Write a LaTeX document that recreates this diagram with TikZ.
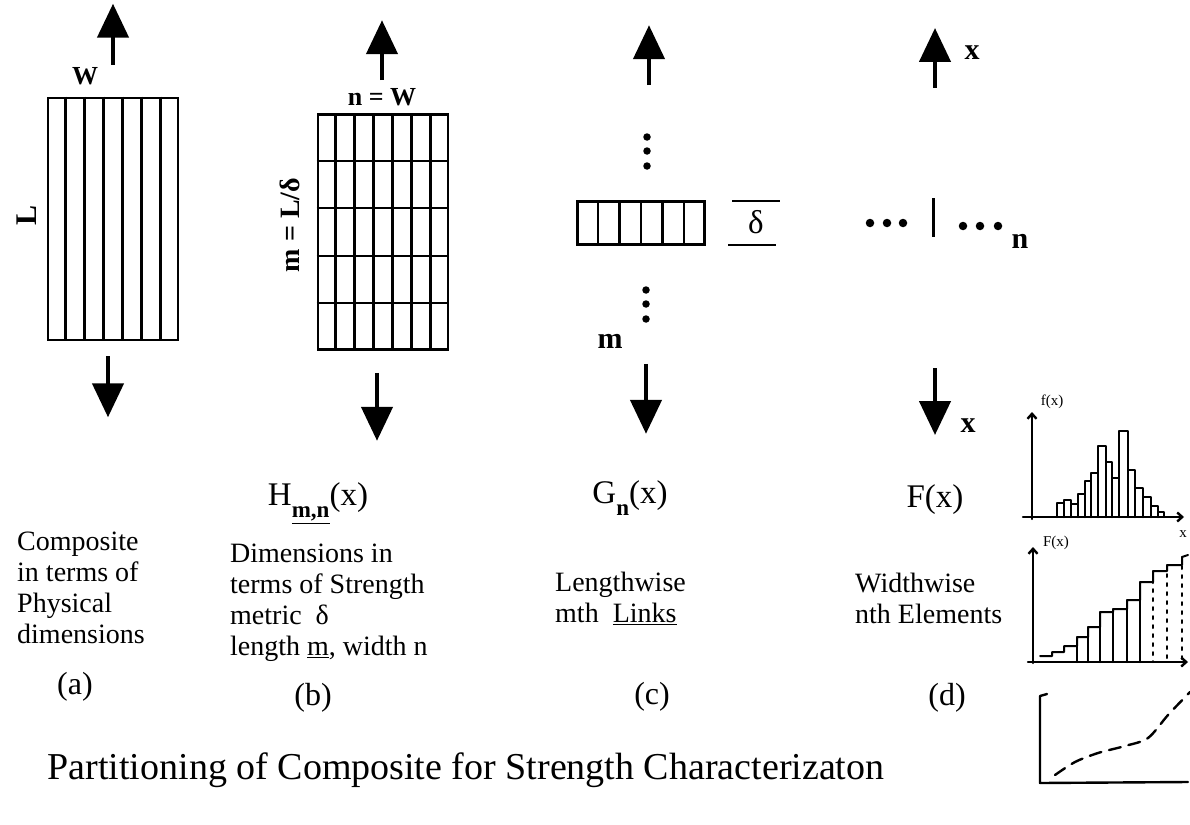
\documentclass[tikz,border=0pt]{standalone}
\usepackage{fontspec}
\setmainfont{Liberation Serif}
\usepackage{tikz}
\usetikzlibrary{positioning,arrows.meta,calc}
\newcommand{\lowsub}[1]{\raisebox{-0.38em}{\fontsize{23}{23}\selectfont\bfseries #1}}

\begin{document}
\begin{tikzpicture}[x=1pt, y=-1pt,
  panel/.style={draw, line width=2.6pt, inner sep=0pt},
  divider/.style={line width=2.4pt},
  force/.style={line width=4.5pt, -{Triangle[length=34pt,width=31pt]}},
  lbl/.style={font=\fontsize{26}{30}\selectfont\bfseries, inner sep=0pt},
  biglbl/.style={font=\fontsize{30}{32}\selectfont\bfseries, inner sep=0pt},
  fn/.style={font=\fontsize{33}{38}\selectfont, inner sep=0pt},
  desc/.style={font=\fontsize{28}{31}\selectfont, align=left, anchor=west, inner sep=0pt},
  subtag/.style={font=\fontsize{32}{36}\selectfont, inner sep=0pt},
  bead/.style={circle, fill, inner sep=0pt, minimum size=7.5pt},
  hand/.style={line width=2pt, line cap=round, line join=round},
  plotaxis/.style={hand, line width=2.4pt, -{Straight Barb[length=5pt,width=9pt]}},
  handlab/.style={font=\fontsize{15}{15}\selectfont, inner sep=0pt}]
\useasboundingbox (0,0) rectangle (1190,824);

\node[panel, minimum width=130, minimum height=242] (ra) at (113,219) {};
\foreach \i in {1,...,6}
  \draw[divider] ($(ra.north west)!\i/7!(ra.north east)$) -- ($(ra.south west)!\i/7!(ra.south east)$);
\draw[force] ([yshift=32pt]ra.north) -- ++(0,-61);
\draw[force] ([xshift=-5pt,yshift=-15pt]ra.south) -- ++(0,61);
\node[lbl] (wlab) at (85,76) {W};
\node[biglbl, rotate=90] (llab) at (27,215) {L};

\node[panel, minimum width=130, minimum height=235] (rb) at (383,232) {};
\foreach \i in {1,...,6}
  \draw[divider] ($(rb.north west)!\i/7!(rb.north east)$) -- ($(rb.south west)!\i/7!(rb.south east)$);
\foreach \j in {1,...,4}
  \draw[divider] ($(rb.north west)!\j/5!(rb.south west)$) -- ($(rb.north east)!\j/5!(rb.south east)$);
\draw[force] ([xshift=-1pt,yshift=33pt]rb.north) -- ++(0,-60);
\draw[force] ([xshift=-6pt,yshift=-22pt]rb.south) -- ++(0,68);
\node[lbl] (nwlab) at (382,97) {n = W};
\node[lbl, font=\fontsize{28}{30}\selectfont\bfseries, rotate=90] (mlab) at (290,225) {m = L/δ};

\node[panel, minimum width=127, minimum height=43] (rc) at (641,223) {};
\foreach \i in {1,...,5}
  \draw[divider] ($(rc.north west)!\i/6!(rc.north east)$) -- ($(rc.south west)!\i/6!(rc.south east)$);
\draw[force] ([xshift=8pt,yshift=115pt]rc.north) -- ++(0,-60);
\draw[force] ([xshift=5pt,yshift=-118pt]rc.south) -- ++(0,70);
\foreach \y in {137,151,166} \node[bead] (cu\y) at (647,\y) {};
\foreach \y in {290,304,319} \node[bead] (cd\y) at (646,\y) {};
\node[biglbl] (mc) at (610,341) {m};
\node[fn] (dlt) at (756,222) {δ};
\draw[line width=1.6pt] (732,201) -- (780,201);
\draw[line width=1.6pt] (728,245) -- (776,245);

\coordinate (dmid) at (935,223);
\draw[force] ([yshift=135pt]dmid) -- ++(0,-60);
\draw[force] ([yshift=-145pt]dmid) -- ++(0,67);
\foreach \x in {870,887,903} \node[bead, minimum size=8.5pt] (dl\x) at (\x,223) {};
\foreach \x in {963,980,998} \node[bead, minimum size=8.5pt] (dr\x) at (\x,226) {};
\draw[line width=3pt] (933,198) -- (933,237);
\node[biglbl] (nd) at (1020,241) {n};
\node[biglbl] (xup) at (972,53) {x};
\node[biglbl] (xdn) at (968,426) {x};

\node[fn] (hlab) at (318,503) {H\lowsub{\underline{m,n}}(x)};
\node[fn] (glab) at (630,498) {G\lowsub{n}(x)};
\node[fn] (flab) at (935,500) {F(x)};

\node[desc] (adesc) at (17,588) {Composite\\in terms of\\Physical\\dimensions};
\node[desc] (bdesc) at (230,603) {Dimensions in\\terms of Strength\\metric\ \ δ\\length \underline{m}, width n};
\node[desc] (cdesc) at (555,598) {Lengthwise\\mth\ \ \underline{Links}};
\node[desc] (ddesc) at (855,598) {Widthwise\\nth Elements};

\node[subtag] (ta) at (75,687) {(a)};
\node[subtag] (tb) at (313,698) {(b)};
\node[subtag] (tc) at (652,697) {(c)};
\node[subtag] (td) at (947,698) {(d)};

\node[font=\fontsize{38}{44}\selectfont, inner sep=0pt] (title) at (466,770)
  {Partitioning of Composite for Strength Characterizaton};

\draw[plotaxis] (1032,519) -- (1032,412);
\draw[plotaxis] (1023,517) -- (1184,517);
\node[handlab] (fsmall) at (1052,402) {f(x)};
\node[handlab] (xsmall) at (1183,534) {x};
\foreach \xa/\xb/\h in {1057/1064/503, 1064/1071/500, 1071/1078/504, 1078/1085/494,
    1085/1091/481, 1091/1098/473, 1098/1106/446, 1106/1112/462, 1112/1119/478,
    1119/1128/431, 1128/1135/470, 1135/1143/488, 1143/1151/497, 1151/1158/506, 1158/1164/512}
  \draw[hand] (\xa,517) |- (\xb,\h) -- (\xb,517);

\draw[plotaxis] (1033,663) -- (1033,547);
\draw[plotaxis] (1028,662) -- (1188,662);
\node[handlab] (bigf) at (1056,543) {F(x)};
\draw[hand] (1040,656) -| (1052,652) -| (1064,646) -| (1077,637) -| (1088,627) -| (1100,612)
  -| (1113,609) -| (1127,600) -| (1140,582) -| (1153,571) -| (1167,565) -| (1182,557) -- (1188,555);
\foreach \x/\y in {1077/637, 1088/627, 1100/612, 1113/609, 1127/600, 1140/582}
  \draw[hand] (\x,\y) -- (\x,662);
\foreach \x/\y in {1153/571, 1167/565, 1182/557}
  \draw[hand, dash pattern=on 3pt off 6pt] (\x,\y) -- (\x,662);

\draw[hand, line width=2.4pt] (1047,694) -- (1040,696) -- (1040,783) -- (1188,782);
\draw[hand, line width=2.4pt, dash pattern=on 12pt off 8pt] plot[smooth] coordinates
  {(1055,775) (1075,762) (1098,753) (1125,746) (1148,738) (1168,715) (1190,692)};
\end{tikzpicture}
\end{document}
